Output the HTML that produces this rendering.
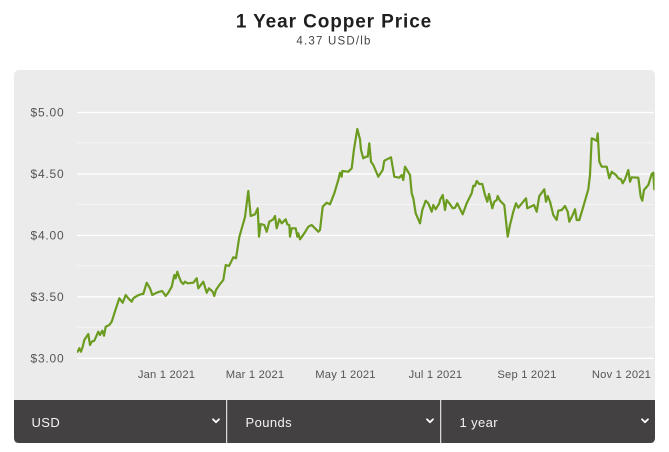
<!DOCTYPE html>
<html>
<head>
<meta charset="utf-8">
<style>
  html, body { margin: 0; padding: 0; background: #ffffff; }
  body { width: 669px; height: 452px; overflow: hidden; }
  svg { display: block; }
  text { font-family: "Liberation Sans", "DejaVu Sans", sans-serif; }
</style>
</head>
<body>
<svg width="669" height="452" viewBox="0 0 669 452" xmlns="http://www.w3.org/2000/svg">
  <!-- Title -->
  <text x="334" y="27.7" text-anchor="middle" font-size="19" font-weight="bold" fill="#1e1e1e" letter-spacing="0.9">1 Year Copper Price</text>
  <text x="334" y="44.5" text-anchor="middle" font-size="11.5" fill="#444444" letter-spacing="1.2">4.37 USD/lb</text>

  <!-- Panel -->
  <rect x="14" y="70" width="641" height="373" rx="5" ry="5" fill="#ebebeb"/>

  <!-- minor gridlines -->
  <g stroke="#f6f6f6" stroke-width="1">
    <line x1="77" x2="654" y1="142.9" y2="142.9"/>
    <line x1="77" x2="654" y1="204.4" y2="204.4"/>
    <line x1="77" x2="654" y1="265.9" y2="265.9"/>
    <line x1="77" x2="654" y1="327.3" y2="327.3"/>
  </g>
  <!-- major gridlines -->
  <g stroke="#ffffff" stroke-width="1.3">
    <line x1="77" x2="654" y1="112.5" y2="112.5"/>
    <line x1="77" x2="654" y1="174" y2="174"/>
    <line x1="77" x2="654" y1="235.4" y2="235.4"/>
    <line x1="77" x2="654" y1="296.8" y2="296.8"/>
    <line x1="77" x2="654" y1="358.3" y2="358.3"/>
  </g>

  <!-- Y labels -->
  <g font-size="12" fill="#555555" text-anchor="end" letter-spacing="0.8">
    <text x="64.5" y="116.7">$5.00</text>
    <text x="64.5" y="178.2">$4.50</text>
    <text x="64.5" y="239.6">$4.00</text>
    <text x="64.5" y="301">$3.50</text>
    <text x="64.5" y="362.5">$3.00</text>
  </g>

  <!-- X labels -->
  <g font-size="11.2" fill="#555555" text-anchor="middle" letter-spacing="0.2">
    <text x="166.5" y="378">Jan 1 2021</text>
    <text x="255" y="378">Mar 1 2021</text>
    <text x="345.5" y="378">May 1 2021</text>
    <text x="435.5" y="378">Jul 1 2021</text>
    <text x="527" y="378">Sep 1 2021</text>
    <text x="621.5" y="378">Nov 1 2021</text>
  </g>

  <!-- Series -->
  <defs>
    <clipPath id="plotclip"><rect x="77" y="80" width="577.5" height="300"/></clipPath>
  </defs>
  <polyline clip-path="url(#plotclip)" fill="none" stroke="#6b9b1f" stroke-width="2.2" stroke-linejoin="round" stroke-linecap="round"
    points="77.7,351.7 79.3,348.3 81,351.7 82.7,346.7 84.3,340 88.3,334 90,345 91.7,341.7 94.3,340.7 98.3,331.7 100,335 102.3,330.7 104,335.7 105.7,326.7 109.3,325 111.7,321.7 113.3,316.7 116,308.3 119.3,298.3 122.7,302.7 125.7,295 128.3,298.3 131.7,301.7 133.3,298.3 137.3,295.7 141.7,294 143.3,294 146.7,282.7 150,288.3 152.3,295 156.7,292.7 161.7,291 162.7,291.7 165.7,296 168.3,292.7 171.7,286.7 174.3,275 175.7,278.3 177.3,271.7 179,276.7 181,281.7 183.3,284 185,281.7 187.7,283.3 193.3,282.7 196.7,278.3 198.3,288.3 203.3,281.7 206.7,292.7 209,288.3 212.7,291.7 214.3,296 216,290 219.3,285 223.3,280 225.7,265 229,266 233.3,257.3 236,258.3 239.3,237 245,217 248.3,191 250.7,216 255,214.3 257.7,208.3 259,236.7 260.7,224 264.3,225 266.7,231.7 269.3,221.7 273.3,219.3 275,216 276.7,228.3 279.3,219.3 281.7,223.3 285.7,219.3 287.3,224.3 289.3,225 290,236.7 291.7,228.3 295.7,228.3 297.3,236.7 298.3,233.3 300,239.3 304.3,233.3 308.3,226.7 311.7,225 315,228.3 318.3,231.7 320,230 322.7,206.7 326.7,202.7 330,204.3 334.3,193.3 338.3,180 340,172.7 341.7,176.7 342.3,171 348.3,171.7 351.7,168.3 354,149.3 357.3,129 360,139.3 361,150 363.3,158.3 366,156.7 367.7,156.7 369.3,143.3 371,161.7 373.3,165 378.3,176.7 382.7,170 384.3,160.7 391,157.3 394.3,176.7 399.3,177.7 401.7,175 403.3,180 405,166.7 410,175 411.7,193.3 413.3,198.3 415.7,213.3 420,223.3 422.3,210 425.7,200.7 428.3,203.3 431.7,211.7 433.3,205 435.7,209.3 439.3,203.3 440,200 442.7,195 445,210 446.7,200 449.3,203.3 452.7,208.3 455,207.7 457.3,203.3 462.7,214.3 466.7,203.3 471.7,193.3 473.3,185.7 475,186 476.7,181 479.3,184 482.3,184 485,195 487.3,201.7 489,194 492.3,208.3 494.3,201.7 496.7,200 497.7,196 500,200.7 504.3,205 507.7,236.7 510,225 513.3,211.7 516,203.3 518.3,207.7 526,198.3 527.3,208.3 534,205 536.7,211.7 539.3,196 544.3,189.3 546,201.7 547.7,196 550,201.7 553.3,215 556.7,220 558.3,210.7 561.7,210 565,206 567.7,211.7 569.3,221.7 572.7,215 575,209.3 576.7,220 579.3,220 583.3,206.7 588.3,189.3 590,175 591.7,138.3 594,139.3 596.7,141 597.7,133.3 599.3,161.7 601.7,166.7 606.7,166.7 609.3,178.3 611.7,171.7 616,175 618.3,178.3 621,179.3 622.7,183.3 625,179.3 628.3,170 630,181.7 631.7,177.3 638.3,177.7 640.7,196.7 642.3,200.7 644,190 648.3,185 651.7,174 653.3,172.7 654.3,189.3"/>

  <!-- Bottom control bar -->
  <path d="M14,400 H655 V438 Q655,443 650,443 H19 Q14,443 14,438 Z" fill="#434142"/>
  <line x1="226.7" x2="226.7" y1="400" y2="443" stroke="#ffffff" stroke-width="1"/>
  <line x1="440.7" x2="440.7" y1="400" y2="443" stroke="#ffffff" stroke-width="1"/>

  <g font-size="13" fill="#f4f4f4" letter-spacing="0.4">
    <text x="31.5" y="426.8">USD</text>
    <text x="245.5" y="426.8">Pounds</text>
    <text x="459.5" y="426.8">1 year</text>
  </g>

  <g fill="none" stroke="#ffffff" stroke-width="1.8" stroke-linecap="round" stroke-linejoin="round">
    <polyline points="213,419.3 216,422.3 219,419.3"/>
    <polyline points="427,419.3 430,422.3 433,419.3"/>
    <polyline points="642,419.3 645,422.3 648,419.3"/>
  </g>
</svg>
</body>
</html>
